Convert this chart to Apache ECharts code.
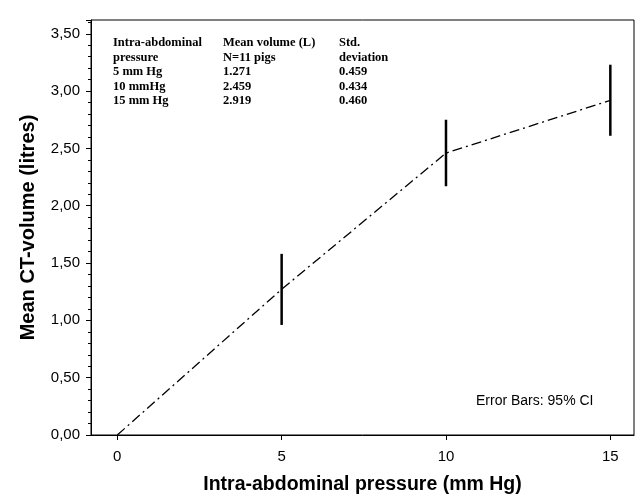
<!DOCTYPE html>
<html><head><meta charset="utf-8">
<script src="https://cdn.jsdelivr.net/npm/echarts@6/dist/echarts.min.js"></script>
<style>html,body{margin:0;padding:0;background:#fff}#c{width:637px;height:497px}</style>
</head><body><div id="c"></div>
<script>
const pressure = [0, 5, 10, 15];
const meanVolume = [0, 1.271, 2.459, 2.919];
const ciLow = [null, 0.96, 2.17, 2.61];
const ciHigh = [null, 1.58, 2.75, 3.23];
const xTicks = [0, 5, 10, 15];
const yTicks = ['0,00','0,50','1,00','1,50','2,00','2,50','3,00','3,50'];
const tableHeader = [['Intra-abdominal','Mean volume (L)','Std.'],['pressure','N=11 pigs','deviation']];
const tableRows = [['5 mm Hg','1.271','0.459'],['10 mmHg','2.459','0.434'],['15 mm Hg','2.919','0.460']];

const chart = echarts.init(document.getElementById('c'));
const tableLines = tableHeader.concat(tableRows);
const colX = [113, 223, 339];
const textEls = [];
tableLines.forEach((row, i) => {
  row.forEach((t, j) => {
    textEls.push({type:'text', left: colX[j], top: 36.5 + i*14.5,
      style:{text:t, font:'bold 12.5px "Liberation Serif", "Times New Roman", serif', fill:'#000'}});
  });
});
textEls.push({type:'text', left: 476, top: 394,
  style:{text:'Error Bars: 95% CI', font:'14px "Liberation Sans", Arial, sans-serif', fill:'#000'}});

const errData = pressure.map((p,i)=>[p, ciLow[i], ciHigh[i]]).filter(d=>d[1]!==null);
const labelFont = '"Liberation Sans", Arial, sans-serif';

chart.setOption({
  animation:false,
  graphic: textEls,
  grid:{left:91, top:20, right:3, bottom:62, outerBoundsMode:'none', containLabel:false,
    show:true, borderColor:'#000', borderWidth:1, backgroundColor:'transparent'},
  xAxis:{type:'value', min:-0.8, max:15.72,
    name:'Intra-abdominal pressure (mm Hg)', nameLocation:'middle', nameGap:40,
    nameTextStyle:{fontFamily:labelFont, fontWeight:'bold', fontSize:19.5, color:'#000'},
    axisLine:{show:true, onZero:false, lineStyle:{color:'#000', width:1}},
    axisTick:{show:true, length:5, lineStyle:{color:'#000'}, customValues: xTicks},
    splitLine:{show:false},
    axisLabel:{color:'#000', fontSize:15, fontFamily:labelFont, margin:14, customValues: xTicks,
      formatter: v => String(v)}
  },
  yAxis:{type:'value', min:0, max:3.62, interval:0.5,
    name:'Mean CT-volume (litres)', nameLocation:'middle', nameGap:53,
    nameTextStyle:{fontFamily:labelFont, fontWeight:'bold', fontSize:20, color:'#000'},
    axisLine:{show:true, onZero:false, lineStyle:{color:'#000', width:1}},
    axisTick:{show:true, length:5, lineStyle:{color:'#000'}},
    minorTick:{show:true, splitNumber:5, length:3, lineStyle:{color:'#000'}},
    splitLine:{show:false},
    axisLabel:{color:'#000', fontSize:15, fontFamily:labelFont, margin:11, showMaxLabel:false,
      formatter: v => { const i = Math.round(v/0.5); return Math.abs(v - i*0.5)<1e-9 && yTicks[i] ? yTicks[i] : ''; }}
  },
  series:[
    {type:'line', data: pressure.map((p,i)=>[p, meanVolume[i]]), symbol:'none',
      lineStyle:{color:'#000', width:1.3, type:[10,4,2,4]}},
    {type:'custom', data: errData, renderItem:(params, api)=>{
      const x = api.value(0);
      const p1 = api.coord([x, api.value(1)]);
      const p2 = api.coord([x, api.value(2)]);
      return {type:'line', shape:{x1:p1[0], y1:p1[1], x2:p2[0], y2:p2[1]}, style:{stroke:'#000', lineWidth:2.5}};
    }, z:3}
  ]
});
</script></body></html>
